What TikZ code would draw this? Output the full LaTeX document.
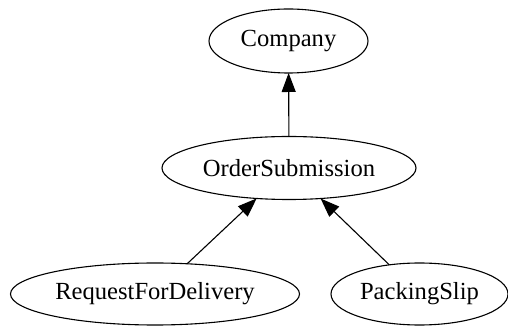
\documentclass[tikz,border=0pt]{standalone}
\usepackage{fontspec}
\setmainfont{Liberation Serif}
\usetikzlibrary{shapes.geometric,arrows.meta}
\begin{document}
\begin{tikzpicture}[x=1pt,y=1pt,
  cls/.style={ellipse,draw,line width=1.1pt,inner sep=0pt,outer sep=0pt,
    font=\fontsize{24.6}{29}\selectfont},
  rel/.style={line width=1.1pt,-{Triangle[length=19pt,width=14pt]}}]
\useasboundingbox (0,0) rectangle (508,326);
\node[cls,minimum width=159pt,minimum height=64pt] (company) at (288.5,285) {Company};
\node[cls,minimum width=254pt,minimum height=63pt] (order) at (289,158) {OrderSubmission};
\node[cls,minimum width=289pt,minimum height=62pt] (rfd) at (155,32) {RequestForDelivery};
\node[cls,minimum width=177pt,minimum height=62pt] (ps) at (419.5,32) {PackingSlip};
\draw[rel] (order) -- (company);
\draw[rel] (rfd) -- (order);
\draw[rel] (ps) -- (order);
\end{tikzpicture}
\end{document}
